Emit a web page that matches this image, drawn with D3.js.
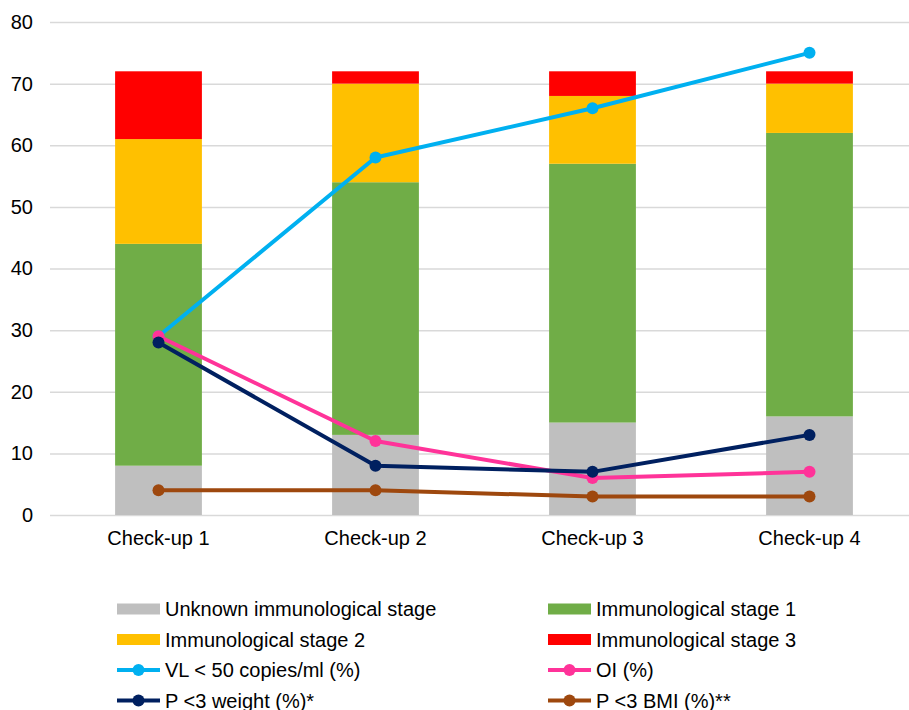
<!DOCTYPE html>
<html>
<head>
<meta charset="utf-8">
<script src="https://cdn.jsdelivr.net/npm/d3@7"></script>
<style>
  html, body { margin: 0; padding: 0; background: #fff; }
  svg { display: block; font-family: "Liberation Sans", Arial, sans-serif; }
</style>
</head>
<body>
<svg id="chart" width="909" height="710"></svg>
<script>
// Check-up categories and tick values
const categories = ["Check-up 1", "Check-up 2", "Check-up 3", "Check-up 4"];
const yTicks = [0, 10, 20, 30, 40, 50, 60, 70, 80];

// Stacked immunological stage shares (%)
const unknownStage = [8, 13, 15, 16];
const stage1 = [36, 41, 42, 46];
const stage2 = [17, 16, 11, 8];
const stage3 = [11, 2, 4, 2];

// Outcome lines (%)
const vlSuppressed = [29, 58, 66, 75];
const oi = [29, 12, 6, 7];
const pWeight = [28, 8, 7, 13];
const pBmi = [4, 4, 3, 3];

const barSeries = [
  { name: "Unknown immunological stage", values: unknownStage, color: "#BFBFBF" },
  { name: "Immunological stage 1", values: stage1, color: "#70AD47" },
  { name: "Immunological stage 2", values: stage2, color: "#FFC000" },
  { name: "Immunological stage 3", values: stage3, color: "#FF0000" }
];
const lineSeries = [
  { name: "VL < 50 copies/ml (%)", values: vlSuppressed, color: "#00B0F0" },
  { name: "OI (%)", values: oi, color: "#FF3399" },
  { name: "P <3 weight (%)*", values: pWeight, color: "#002060" },
  { name: "P <3 BMI (%)**", values: pBmi, color: "#9E480E" }
];

const FONT = "Liberation Sans, Arial, sans-serif";
const svg = d3.select("#chart");
const plot = { left: 50, right: 918, top: 22, bottom: 515 };

const x = d3.scaleBand().domain(categories).range([plot.left, plot.right]).padding(0);
const y = d3.scaleLinear().domain([0, 80]).range([plot.bottom, plot.top]);
const barW = x.bandwidth() * 0.4;
const cx = c => x(c) + x.bandwidth() / 2;

// Gridlines and y labels
const yAxis = d3.axisLeft(y).tickValues(yTicks).tickSize(-(plot.right - plot.left)).tickPadding(17);
const gy = svg.append("g").attr("transform", `translate(${plot.left},0)`).call(yAxis);
gy.select(".domain").remove();
gy.selectAll(".tick line").attr("stroke", "#D9D9D9").attr("stroke-width", 1.5);
gy.selectAll(".tick text").attr("fill", "#000").style("font-size", "20px").style("font-family", FONT);

// Stacked bars
const stackRows = categories.map((c, i) => {
  const row = { cat: c };
  barSeries.forEach(s => row[s.name] = s.values[i]);
  return row;
});
const stacked = d3.stack().keys(barSeries.map(s => s.name))(stackRows);
svg.append("g").selectAll("g").data(stacked).join("g")
  .attr("fill", (d, i) => barSeries[i].color)
  .selectAll("rect").data(d => d).join("rect")
  .attr("x", d => cx(d.data.cat) - barW / 2)
  .attr("width", barW)
  .attr("y", d => y(d[1]))
  .attr("height", d => y(d[0]) - y(d[1]));

// X labels
const xAxis = d3.axisBottom(x).tickSize(0).tickPadding(16);
const gx = svg.append("g").attr("transform", `translate(0,${plot.bottom})`).call(xAxis);
gx.select(".domain").remove();
gx.selectAll(".tick text").attr("fill", "#000").style("font-size", "20px").style("font-family", FONT);

// Lines with markers
const line = d3.line().x((d, i) => cx(categories[i])).y(d => y(d));
lineSeries.forEach(s => {
  const g = svg.append("g");
  g.append("path").attr("d", line(s.values)).attr("fill", "none")
    .attr("stroke", s.color).attr("stroke-width", 4).attr("stroke-linejoin", "round");
  g.selectAll("circle").data(s.values).join("circle")
    .attr("cx", (d, i) => cx(categories[i])).attr("cy", d => y(d))
    .attr("r", 6).attr("fill", s.color);
});

// Legend: two columns, bars first then lines
const legendItems = [
  ...barSeries.map(s => ({ ...s, type: "bar" })),
  ...lineSeries.map(s => ({ ...s, type: "line" }))
];
const colX = [117, 548];
const rowY = [609, 639.5, 670, 700.5];
const lg = svg.append("g");
legendItems.forEach((item, i) => {
  const gx0 = colX[i % 2], gy0 = rowY[Math.floor(i / 2)];
  const g = lg.append("g").attr("transform", `translate(${gx0},${gy0})`);
  if (item.type === "bar") {
    g.append("rect").attr("x", 0).attr("y", -5.5).attr("width", 43).attr("height", 11).attr("fill", item.color);
  } else {
    g.append("line").attr("x1", 0).attr("x2", 43).attr("y1", 0).attr("y2", 0)
      .attr("stroke", item.color).attr("stroke-width", 4);
    g.append("circle").attr("cx", 21.5).attr("cy", 0).attr("r", 6).attr("fill", item.color);
  }
  g.append("text").attr("x", 48).attr("y", 0).attr("dy", "0.35em")
    .style("font-size", "20px").style("font-family", FONT).attr("fill", "#000").text(item.name);
});
</script>
</body>
</html>
